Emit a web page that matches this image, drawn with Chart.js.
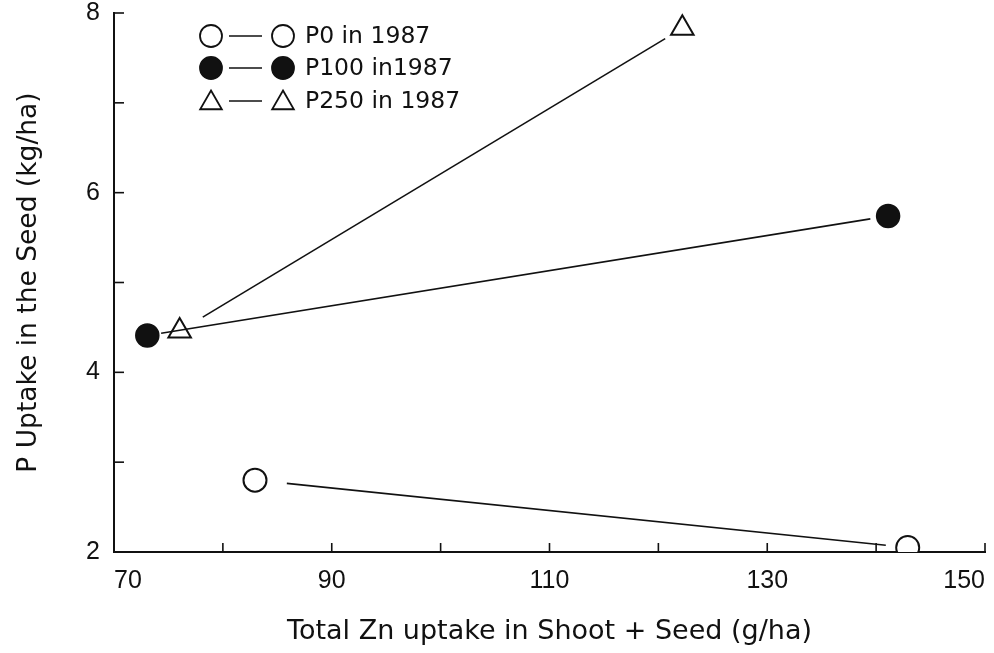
<!DOCTYPE html>
<html>
<head>
<meta charset="utf-8">
<script src="https://cdn.jsdelivr.net/npm/chart.js@4.4.1/dist/chart.umd.min.js"></script>
<style>
  html, body { margin: 0; padding: 0; background: #fff; }
  #wrap { width: 994px; height: 653px; position: relative; }
</style>
</head>
<body>
<div id="wrap"><canvas id="c" width="994" height="653"></canvas></div>
<script>
// ---- data ----
const seriesLabels = ['P0 in 1987', 'P100 in1987', 'P250 in 1987'];
const p0X   = [82.95, 142.9];
const p0Y   = [2.80, 2.05];
const p100X = [73.06, 141.1];
const p100Y = [4.41, 5.74];
const p250X = [76.03, 122.2];
const p250Y = [4.46, 7.83];
const xTickLabels = [70, 90, 110, 130, 150];
const yTickLabels = [2, 4, 6, 8];
const xTitle = 'Total Zn uptake in Shoot + Seed (g/ha)';
const yTitle = 'P Uptake in the Seed (kg/ha)';

const toPts = (xs, ys) => xs.map((x, i) => ({ x: x, y: ys[i] }));

// draws the connecting segment with gaps next to the markers
const gapLines = {
  id: 'gapLines',
  afterDatasetsDraw(chart) {
    const ctx = chart.ctx;
    chart.data.datasets.forEach((ds, i) => {
      const meta = chart.getDatasetMeta(i);
      const a = meta.data[0], b = meta.data[1];
      if (!a || !b) return;
      const dx = b.x - a.x, dy = b.y - a.y;
      const len = Math.hypot(dx, dy);
      const ux = dx / len, uy = dy / len;
      const g = ds.segGap || [20, 20];
      ctx.save();
      ctx.strokeStyle = '#111';
      ctx.lineWidth = 1.6;
      ctx.beginPath();
      ctx.moveTo(a.x + ux * g[0], a.y + uy * g[0]);
      ctx.lineTo(b.x - ux * g[1], b.y - uy * g[1]);
      ctx.stroke();
      ctx.restore();
    });
  }
};

// inward tick marks
const innerTicks = {
  id: 'innerTicks',
  afterDraw(chart) {
    const ctx = chart.ctx;
    const xs = chart.scales.x, ys = chart.scales.y;
    ctx.save();
    ctx.strokeStyle = '#111';
    ctx.lineWidth = 1.6;
    xs.ticks.forEach(t => {
      if (t.value === xs.min) return;
      const px = xs.getPixelForValue(t.value);
      ctx.beginPath();
      ctx.moveTo(px, ys.bottom);
      ctx.lineTo(px, ys.bottom - 9);
      ctx.stroke();
    });
    ys.ticks.forEach(t => {
      if (t.value === ys.min) return;
      const py = ys.getPixelForValue(t.value);
      ctx.beginPath();
      ctx.moveTo(xs.left, py);
      ctx.lineTo(xs.left + 10, py);
      ctx.stroke();
    });
    ctx.restore();
  }
};

function drawMarker(ctx, style, x, y, r, fill) {
  ctx.beginPath();
  if (style === 'triangle') {
    for (let k = 0; k < 3; k++) {
      const ang = -Math.PI / 2 + k * 2 * Math.PI / 3;
      const px = x + Math.cos(ang) * r, py = y + Math.sin(ang) * r;
      if (k === 0) ctx.moveTo(px, py); else ctx.lineTo(px, py);
    }
    ctx.closePath();
  } else {
    ctx.arc(x, y, r, 0, Math.PI * 2);
  }
  ctx.fillStyle = fill;
  ctx.fill();
  ctx.stroke();
}

// legend drawn inside the plot, marker — line — marker  label
const innerLegend = {
  id: 'innerLegend',
  afterDraw(chart) {
    const ctx = chart.ctx;
    ctx.save();
    ctx.strokeStyle = '#111';
    ctx.lineWidth = 1.8;
    ctx.font = '23.5px "DejaVu Sans", sans-serif';
    ctx.textBaseline = 'middle';
    const rowsY = [36, 68, 101];
    chart.data.datasets.forEach((ds, i) => {
      const y = rowsY[i];
      const r = ds.pointStyle === 'triangle' ? 12.5 : 11;
      const yy = ds.pointStyle === 'triangle' ? y + 2 : y;
      drawMarker(ctx, ds.pointStyle, 211, yy, r, ds.pointBackgroundColor);
      ctx.lineWidth = 1.4;
      ctx.beginPath(); ctx.moveTo(229, y); ctx.lineTo(262, y); ctx.stroke();
      ctx.lineWidth = 1.8;
      drawMarker(ctx, ds.pointStyle, 283, yy, r, ds.pointBackgroundColor);
      ctx.fillStyle = '#111';
      ctx.fillText(ds.label, 305, y + 1);
    });
    ctx.restore();
  }
};

const tickFont = { family: '"Liberation Sans", sans-serif', size: 25 };

new Chart(document.getElementById('c'), {
  type: 'scatter',
  data: {
    datasets: [
      { label: seriesLabels[0], data: toPts(p0X, p0Y), pointStyle: 'circle', pointRadius: 11.5,
        pointBackgroundColor: '#fff', pointBorderColor: '#111', pointBorderWidth: 2, segGap: [32, 22] },
      { label: seriesLabels[1], data: toPts(p100X, p100Y), pointStyle: 'circle', pointRadius: 11.5,
        pointBackgroundColor: '#111', pointBorderColor: '#111', pointBorderWidth: 1.5, segGap: [14, 18] },
      { label: seriesLabels[2], data: toPts(p250X, p250Y), pointStyle: 'triangle', pointRadius: 13,
        pointBackgroundColor: 'rgba(255,255,255,0)', pointBorderColor: '#111', pointBorderWidth: 2, segGap: [27, 20] }
    ]
  },
  options: {
    responsive: false,
    animation: false,
    events: [],
    layout: { autoPadding: false, padding: { top: 13, right: 9, left: 0, bottom: 0 } },
    plugins: { legend: { display: false }, tooltip: { enabled: false } },
    scales: {
      x: {
        type: 'linear', min: 70, max: 150,
        ticks: {
          stepSize: 10, color: '#111', font: tickFont, padding: 14, maxRotation: 0, align: 'inner',
          callback: v => xTickLabels.includes(v) ? String(v) : ''
        },
        grid: { display: false, drawTicks: false },
        border: { display: true, color: '#111', width: 2 },
        title: { display: true, text: xTitle, color: '#111',
                 font: { family: '"DejaVu Sans", sans-serif', size: 27 }, padding: { top: 0, bottom: 5 } },
        afterFit(s) { s.height = 101; s.paddingLeft = 0; s.paddingRight = 0; }
      },
      y: {
        type: 'linear', min: 2, max: 8,
        ticks: {
          stepSize: 1, color: '#111', font: tickFont, padding: 14,
          callback: v => yTickLabels.includes(v) ? String(v) : ''
        },
        grid: { display: false, drawTicks: false },
        border: { display: true, color: '#111', width: 2 },
        title: { display: true, text: yTitle, color: '#111',
                 font: { family: '"DejaVu Sans", sans-serif', size: 26.5 }, padding: { top: 13, bottom: 0 } },
        afterFit(s) { s.width = 114; s.paddingTop = 0; s.paddingBottom = 0; }
      }
    }
  },
  plugins: [gapLines, innerTicks, innerLegend]
});
</script>
</body>
</html>
